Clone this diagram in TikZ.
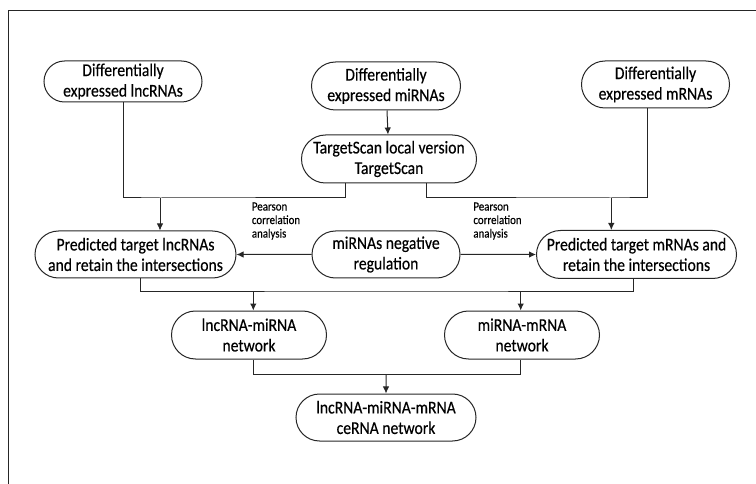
\documentclass[tikz,border=0pt]{standalone}
\usepackage{fontspec}
\setmainfont{Carlito}[FakeStretch=0.87, FakeBold=0.4]
\usepackage{tikz}
\usetikzlibrary{positioning,arrows.meta,shapes.misc,calc}

\begin{document}
\begin{tikzpicture}[
  x=1pt, y=-1pt,
  proc/.style={rounded rectangle, draw, inner sep=0pt, align=center, font=\fontsize{18}{20.5}\selectfont},
  note/.style={inner sep=0pt, align=left, font=\fontsize{12.5}{13.5}\selectfont},
  line width=1pt, draw=black!85, >={Latex[length=7pt,width=6.5pt]}
]
\useasboundingbox (0,0) rectangle (756,484);
\draw (756,11) -- (8,11) -- (8,484);

% inputs
\node[proc, minimum width=158pt, minimum height=41pt] (lnc) at (123,81.5) {Differentially\\expressed lncRNAs};
\node[proc, minimum width=149pt, minimum height=48pt] (mir) at (386,86) {Differentially\\expressed miRNAs};
\node[proc, minimum width=148pt, minimum height=47pt] (mrna) at (655.5,84.5) {Differentially\\expressed mRNAs};
\node[proc, minimum width=175pt, minimum height=48pt] (ts) at (389,159) {TargetScan local version\\TargetScan};

% predictions
\node[proc, minimum width=201pt, minimum height=47pt] (predl) at (135.5,254.5) {Predicted target lncRNAs\\and retain the intersections};
\node[proc, minimum width=148pt, minimum height=47pt] (neg) at (386,254.5) {miRNAs negative\\regulation};
\node[proc, minimum width=200pt, minimum height=48pt] (predm) at (636.5,254.5) {Predicted target mRNAs and\\retain the intersections};
\node[note] (pl) at (276,221) {Pearson\\correlation\\analysis};
\node[note] (pr) at (497.5,221) {Pearson\\correlation\\analysis};

% networks
\node[proc, minimum width=155pt, minimum height=48pt] (lncnet) at (249,335) {lncRNA-miRNA\\network};
\node[proc, minimum width=155pt, minimum height=48pt] (mirnet) at (522,335) {miRNA-mRNA\\network};
\node[proc, minimum width=180pt, minimum height=47pt] (cerna) at (386,417.5) {lncRNA-miRNA-mRNA\\ceRNA network};

\coordinate (jl) at (160,198);
\coordinate (jr) at (611.3,198);
\coordinate (jm) at (386,291);
\coordinate (jb) at (386,374.3);

\draw[->] (mir) -- (ts);
\draw (lnc.south) |- (jl) -| ([xshift=-44pt]ts.south);
\draw ([xshift=-8pt]mrna.south) |- (jr) -| ([xshift=37pt]ts.south);
\draw[->] (jl) -- (jl |- predl.north);
\draw[->] (jr) -- (jr |- predm.north);
\draw[->] (neg) -- (predl);
\draw[->] (neg) -- (predm);

\draw ([xshift=4.5pt]predl.south) |- (jm) -| ([xshift=-3pt]predm.south);
\draw[->] (jm -| 253.3,0) -- ([xshift=4.3pt]lncnet.north);
\draw[->] (jm -| 520.7,0) -- ([xshift=-1.3pt]mirnet.north);

\draw ([xshift=4.3pt]lncnet.south) |- (jb) -| ([xshift=-1.3pt]mirnet.south);
\draw[->] (jb) -- (cerna);
\end{tikzpicture}
\end{document}
